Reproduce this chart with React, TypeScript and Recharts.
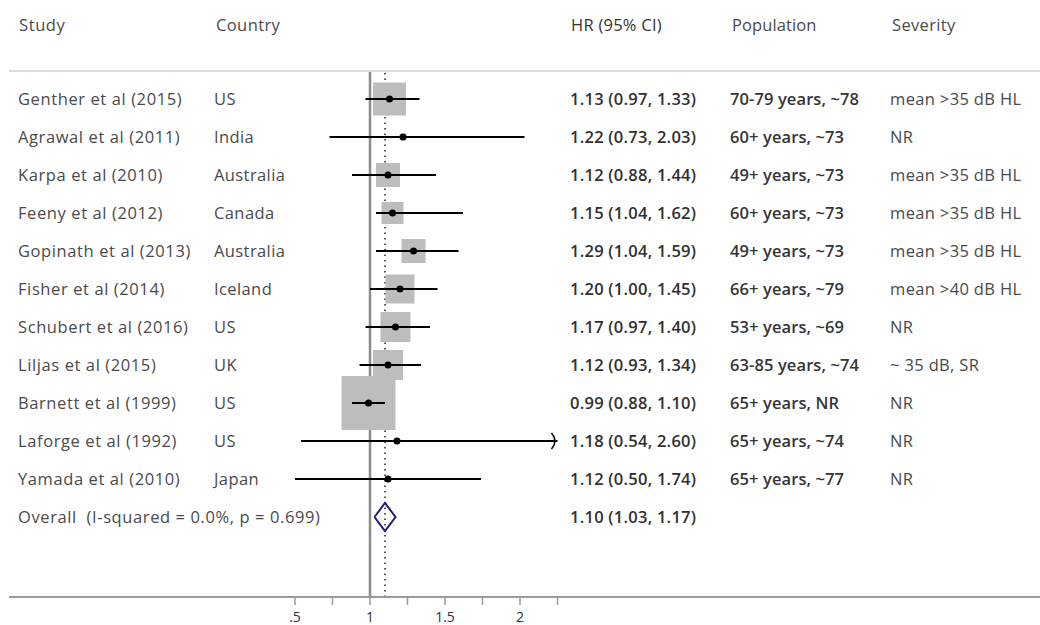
import { ScatterChart, Scatter, XAxis, YAxis, ReferenceLine } from 'recharts'

const studies = [
  'Genther et al (2015)',
  'Agrawal et al (2011)',
  'Karpa et al (2010)',
  'Feeny et al (2012)',
  'Gopinath et al (2013)',
  'Fisher et al (2014)',
  'Schubert et al (2016)',
  'Liljas et al (2015)',
  'Barnett et al (1999)',
  'Laforge et al (1992)',
  'Yamada et al (2010)',
]
const countries = ['US', 'India', 'Australia', 'Canada', 'Australia', 'Iceland', 'US', 'UK', 'US', 'US', 'Japan']
const hazardRatios = [1.13, 1.22, 1.12, 1.15, 1.29, 1.2, 1.17, 1.12, 0.99, 1.18, 1.12]
const ciLower = [0.97, 0.73, 0.88, 1.04, 1.04, 1.0, 0.97, 0.93, 0.88, 0.54, 0.5]
const ciUpper = [1.33, 2.03, 1.44, 1.62, 1.59, 1.45, 1.4, 1.34, 1.1, 2.6, 1.74]
const weights = [13.1, 0.5, 6.9, 5.8, 6.9, 10.1, 10.8, 10.8, 34.9, 0.3, 0.4]
const populations = [
  '70-79 years, ~78',
  '60+ years, ~73',
  '49+ years, ~73',
  '60+ years, ~73',
  '49+ years, ~73',
  '66+ years, ~79',
  '53+ years, ~69',
  '63-85 years, ~74',
  '65+ years, NR',
  '65+ years, ~74',
  '65+ years, ~77',
]
const severities = [
  'mean >35 dB HL',
  'NR',
  'mean >35 dB HL',
  'mean >35 dB HL',
  'mean >35 dB HL',
  'mean >40 dB HL',
  'NR',
  '~ 35 dB, SR',
  'NR',
  'NR',
  'NR',
]
const overallLabel = 'Overall  (I-squared = 0.0%, p = 0.699)'
const overallEstimate = [1.1, 1.03, 1.17] // HR, lower, upper
const headers = ['Study', 'Country', 'HR (95% CI)', 'Population', 'Severity']
const axisTicks = [0.5, 0.75, 1, 1.25, 1.5, 1.75, 2, 2.25]
const axisTickLabels = ['.5', '', '1', '', '1.5', '', '2', '']

// layout
const W = 1040
const H = 625
const PLOT_LEFT = 9
const PLOT_TOP = 72
const PLOT_BOTTOM = 597
const ONE_PX = 370
const UNIT_PX = 150
const FIRST_ROW_PX = 99
const ROW_PX = 38
const COLS = [18, 214, 570, 730, 890]
const HEAD_COLS = [19, 216, 571, 732, 892]
const FONT = '"Open Sans", sans-serif'
const FONT_SIZE = 16.5
const BOX_K = 9.13
const DIAMOND_H = 14 / ROW_PX

const xDomain = [1 - (ONE_PX - PLOT_LEFT) / UNIT_PX, 1 + (W - ONE_PX) / UNIT_PX]
const yDomain = [-(FIRST_ROW_PX - PLOT_TOP) / ROW_PX, (PLOT_BOTTOM - FIRST_ROW_PX) / ROW_PX]
const xMax = axisTicks[axisTicks.length - 1]

const fmt = (hr: number, lo: number, hi: number) =>
  `${hr.toFixed(2)} (${lo.toFixed(2)}, ${hi.toFixed(2)})`

const studyRows = studies.map((s, i) => ({ x: hazardRatios[i], y: i, w: weights[i] }))
const overallRow = studies.length

const labelRows = [
  ...studies.map((s, i) => ({
    x: 1,
    y: i,
    cells: [s, countries[i], fmt(hazardRatios[i], ciLower[i], ciUpper[i]), populations[i], severities[i]],
  })),
  {
    x: 1,
    y: overallRow,
    cells: [overallLabel, '', fmt(overallEstimate[0], overallEstimate[1], overallEstimate[2]), '', ''],
  },
]

const diamond = [
  { x: overallEstimate[1], y: overallRow },
  { x: overallEstimate[0], y: overallRow - DIAMOND_H },
  { x: overallEstimate[2], y: overallRow },
  { x: overallEstimate[0], y: overallRow + DIAMOND_H },
  { x: overallEstimate[1], y: overallRow },
]

const cellStyle = [
  { fill: '#4a4a4a', fontWeight: 'normal', spacing: 0.6 },
  { fill: '#4a4a4a', fontWeight: 'normal', spacing: 0.4 },
  { fill: '#303030', fontWeight: 600, spacing: 0.25 },
  { fill: '#353535', fontWeight: 600, spacing: 0.1 },
  { fill: '#4a4a4a', fontWeight: 'normal', spacing: 0.35 },
]

const LabelRow = (props: any) => {
  const { cy, payload } = props
  return (
    <g>
      {payload.cells.map((t: string, j: number) => (
        <text
          key={j}
          x={COLS[j]}
          y={cy}
          dy={6}
          fontFamily={FONT}
          fontSize={FONT_SIZE}
          fill={cellStyle[j].fill}
          fontWeight={cellStyle[j].fontWeight}
          letterSpacing={cellStyle[j].spacing}
          style={{ whiteSpace: 'pre' }}
        >
          {t}
        </text>
      ))}
    </g>
  )
}

const BoxShape = (props: any) => {
  const s = BOX_K * Math.sqrt(props.payload.w)
  return <rect x={props.cx - s / 2} y={props.cy - s / 2} width={s} height={s} fill="#bdbdbd" />
}

const DotShape = (props: any) => <circle cx={props.cx} cy={props.cy} r={3.5} fill="#000" />

const CiEnd = (props: any) => {
  if (!props.payload.clipped) return <g />
  const { cx, cy } = props
  return <path d={`M${cx - 6},${cy - 8} Q${cx + 1},${cy} ${cx - 6},${cy + 8}`} fill="none" stroke="#000" strokeWidth={1.6} />
}

const Empty = () => <g />

export default function App() {
  return (
    <div style={{ position: 'absolute', left: 0, top: 0, width: W, height: H, background: '#fff' }}>
      {headers.map((h, j) => (
        <div
          key={h}
          style={{
            position: 'absolute',
            left: HEAD_COLS[j],
            top: 13,
            fontFamily: FONT,
            fontSize: FONT_SIZE,
            letterSpacing: cellStyle[j].spacing,
            color: j === 2 ? '#333' : '#4a4a4a',
            whiteSpace: 'nowrap',
          }}
        >
          {h}
        </div>
      ))}
      <div style={{ position: 'absolute', left: PLOT_LEFT, top: 70, width: W - PLOT_LEFT, height: 2, background: '#dcdcdc' }} />
      <ScatterChart width={W} height={H} margin={{ top: PLOT_TOP, right: 0, bottom: 0, left: PLOT_LEFT }}>
        <XAxis
          dataKey="x"
          type="number"
          domain={xDomain}
          ticks={axisTicks}
          interval={0}
          tickFormatter={(v: number) => axisTickLabels[axisTicks.indexOf(v)] ?? ''}
          height={H - PLOT_BOTTOM}
          axisLine={{ stroke: '#9a9a9a', strokeWidth: 2 }}
          tickLine={{ stroke: '#9a9a9a', strokeWidth: 1.5 }}
          tickSize={8}
          tickMargin={7}
          tick={{ fill: '#333', fontSize: 14, fontFamily: FONT }}
        />
        <YAxis dataKey="y" type="number" domain={yDomain} reversed hide />
        <ReferenceLine x={1} stroke="#8c8c8c" strokeWidth={2.5} />
        <ReferenceLine x={overallEstimate[0]} stroke="#222" strokeWidth={1.5} strokeDasharray="1.5 4" />
        <Scatter data={labelRows} shape={LabelRow} isAnimationActive={false} />
        <Scatter data={studyRows} shape={BoxShape} isAnimationActive={false} />
        {studies.map((s, i) => (
          <Scatter
            key={s}
            data={[
              { x: ciLower[i], y: i },
              { x: Math.min(ciUpper[i], xMax), y: i, clipped: ciUpper[i] > xMax },
            ]}
            line={{ stroke: '#000', strokeWidth: 2 }}
            fill="#000"
            shape={CiEnd}
            isAnimationActive={false}
          />
        ))}
        <Scatter data={studyRows} shape={DotShape} isAnimationActive={false} />
        <Scatter
          data={diamond}
          line={{ stroke: '#1c1c7a', strokeWidth: 2 }}
          fill="#1c1c7a"
          shape={Empty}
          isAnimationActive={false}
        />
      </ScatterChart>
    </div>
  )
}
